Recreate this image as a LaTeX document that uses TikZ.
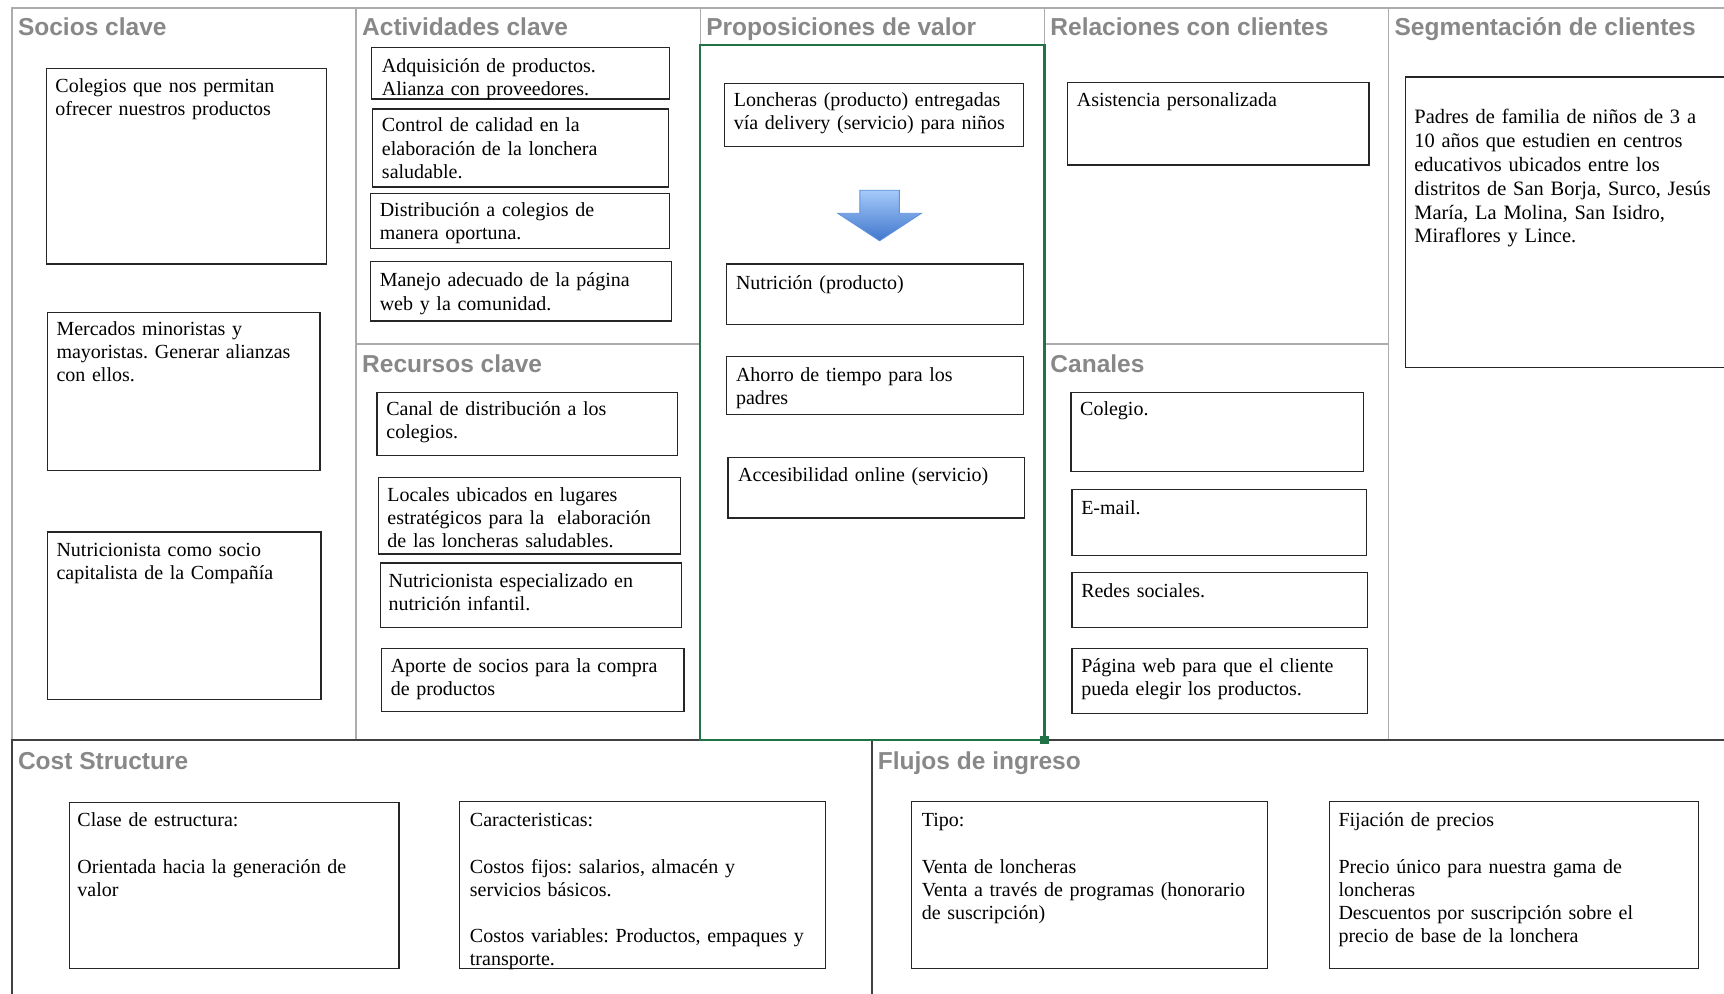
\documentclass[tikz,border=0pt]{standalone}
\usepackage{fontspec}
\setmainfont{Liberation Serif}
\setsansfont{Liberation Sans}
\frenchspacing
\definecolor{rejilla}{RGB}{172,172,172}
\definecolor{oscuro}{RGB}{64,64,64}
\definecolor{titgris}{RGB}{136,136,136}
\definecolor{verdexl}{RGB}{33,115,70}
\definecolor{flechaA}{RGB}{166,202,250}
\definecolor{flechaB}{RGB}{64,118,204}
\definecolor{flechaC}{RGB}{96,146,220}

\begin{document}
\begin{tikzpicture}[x=0.5pt,y=-0.5pt,
  titulo/.style={anchor=base west, inner sep=0pt, text=titgris, font=\sffamily\bfseries\fontsize{11.15}{13}\selectfont},
  caja/.style={draw=black!85, line width=0.6pt},
  texto/.style={anchor=base west, inner sep=0pt, text width=190pt, align=left, font=\fontsize{9.1}{10.5}\selectfont}]
\useasboundingbox (0,0) rectangle (1568,904);
\path[clip] (0,0) rectangle (1568,904);

% rejilla del lienzo
\draw[rejilla, line width=0.75pt] (11,673) -- (11,7) -- (1568,7);
\draw[rejilla, line width=0.75pt] (324,7) -- (324,673);
\draw[rejilla, line width=0.75pt] (637,7) -- (637,673);
\draw[rejilla, line width=0.75pt] (950,7) -- (950,673);
\draw[rejilla, line width=0.75pt] (1263,7) -- (1263,673);
\draw[rejilla, line width=0.75pt] (324,313) -- (637,313);
\draw[rejilla, line width=0.75pt] (950,313) -- (1263,313);
\draw[oscuro, line width=0.9pt] (11,904) -- (11,673) -- (1568,673);
\draw[oscuro, line width=0.9pt] (793,673) -- (793,904);

% titulos
\node[titulo] (tsocios) at (16,32) {Socios clave};
\node[titulo] (tactiv) at (329,32) {Actividades clave};
\node[titulo] (tprop) at (642,32) {Proposiciones de valor};
\node[titulo] (trel) at (955,32) {Relaciones con clientes};
\node[titulo] (tseg) at (1268,32) {Segmentación de clientes};
\node[titulo] (trec) at (329,339) {Recursos clave};
\node[titulo] (tcan) at (955,339) {Canales};
\node[titulo] (tcost) at (16,700) {Cost Structure};
\node[titulo] (tflu) at (798,700) {Flujos de ingreso};

% Socios clave
\draw[caja] (42,62) rectangle (297,240);
\node[texto] (socio1) at (50,84) {Colegios que nos permitan\\ofrecer nuestros productos};
\draw[caja] (43,284) rectangle (291,428);
\node[texto] (socio2) at (51,305) {Mercados minoristas y\\mayoristas. Generar alianzas\\con ellos.};
\draw[caja] (43,484) rectangle (292,636);
\node[texto] (socio3) at (51,506) {Nutricionista como socio\\capitalista de la Compañía};

% Actividades clave
\draw[caja] (338,43) rectangle (609,90);
\node[texto] (activ1) at (347,66) {Adquisición de productos.\\Alianza con proveedores.};
\draw[caja] (339,99) rectangle (608,170);
\node[texto] (activ2) at (347,120) {Control de calidad en la\\elaboración de la lonchera\\saludable.};
\draw[caja] (337,176) rectangle (609,226);
\node[texto] (activ3) at (345,197) {Distribución a colegios de\\manera oportuna.};
\draw[caja] (337,238) rectangle (611,292);
\node[texto] (activ4) at (345,261) {Manejo adecuado de la página\\web y la comunidad.};

% Recursos clave
\draw[caja] (343,357) rectangle (616,414);
\node[texto] (recur1) at (351,378) {Canal de distribución a los\\colegios.};
\draw[caja] (344,434) rectangle (619,504);
\node[texto] (recur2) at (352,456) {Locales ubicados en lugares\\estratégicos para la~ elaboración\\de las loncheras saludables.};
\draw[caja] (346,512) rectangle (620,571);
\node[texto] (recur3) at (353,534) {Nutricionista especializado en\\nutrición infantil.};
\draw[caja] (347,590) rectangle (622,647);
\node[texto] (recur4) at (355,612) {Aporte de socios para la compra\\de productos};

% Proposiciones de valor
\draw[caja] (659,76) rectangle (931,133);
\node[texto] (prop1) at (667,97) {Loncheras (producto) entregadas\\vía delivery (servicio) para niños};
\shade[top color=flechaA, bottom color=flechaB, draw=flechaC, line width=0.4pt]
  (782,173) -- (818,173) -- (818,194) -- (838,194) -- (800,219) -- (762,194) -- (782,194) -- cycle;
\draw[caja] (661,240) rectangle (931,295);
\node[texto] (prop2) at (669,263) {Nutrición (producto)};
\draw[caja] (661,324) rectangle (931,377);
\node[texto] (prop3) at (669,347) {Ahorro de tiempo para los\\padres};
\draw[caja] (662,416) rectangle (932,471);
\node[texto] (prop4) at (671,438) {Accesibilidad online (servicio)};

% Relaciones con clientes
\draw[caja] (971,75) rectangle (1245,150);
\node[texto] (rel1) at (979,97) {Asistencia personalizada};

% Canales
\draw[caja] (974,357) rectangle (1240,429);
\node[texto] (can1) at (982,378) {Colegio.};
\draw[caja] (975,445) rectangle (1243,505);
\node[texto] (can2) at (983,468) {E-mail.};
\draw[caja] (975,521) rectangle (1244,571);
\node[texto] (can3) at (983,543) {Redes sociales.};
\draw[caja] (975,590) rectangle (1244,649);
\node[texto] (can4) at (983,612) {Página web para que el cliente\\pueda elegir los productos.};

% Segmentacion de clientes
\draw[caja] (1278,70) rectangle (1600,334);
\node[texto, font=\fontsize{9.3}{10.9}\selectfont] (seg1) at (1286,112) {Padres de familia de niños de 3 a\\10 años que estudien en centros\\educativos ubicados entre los\\distritos de San Borja, Surco, Jesús\\María, La Molina, San Isidro,\\Miraflores y Lince.};

% Estructura de costos
\draw[caja] (63,730) rectangle (363,881);
\node[texto] (cost1) at (70,752) {Clase de estructura:\\[10.5pt]Orientada hacia la generación de\\valor};
\draw[caja] (418,729) rectangle (751,881);
\node[texto] (cost2) at (427,752) {Caracteristicas:\\[10.5pt]Costos fijos: salarios, almacén y\\servicios básicos.\\[10.5pt]Costos variables: Productos, empaques y\\transporte.};

% Flujos de ingreso
\draw[caja] (829,729) rectangle (1153,881);
\node[texto] (flu1) at (838,752) {Tipo:\\[10.5pt]Venta de loncheras\\Venta a través de programas (honorario\\de suscripción)};
\draw[caja] (1209,729) rectangle (1545,881);
\node[texto] (flu2) at (1217,752) {Fijación de precios\\[10.5pt]Precio único para nuestra gama de\\loncheras\\Descuentos por suscripción sobre el\\precio de base de la lonchera};

% seleccion verde
\draw[verdexl, line width=1pt] (637,41) rectangle (950,673);
\fill[verdexl] (946,669) rectangle (954,677);
\end{tikzpicture}
\end{document}
